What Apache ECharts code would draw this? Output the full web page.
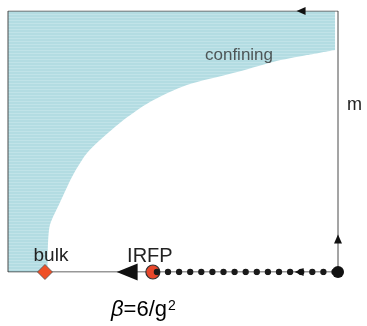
<!DOCTYPE html>
<html><head><meta charset="utf-8">
<script src="https://cdn.jsdelivr.net/npm/echarts@6/dist/echarts.min.js"></script>
<style>html,body{margin:0;padding:0;background:#fff}#c{width:367px;height:326px}</style>
</head><body><div id="c"></div>
<script>
// Phase boundary between confining (upper-left) and bulk region, relative units 0..100
var boundaryBeta = [0, 11.8, 12.1, 12.7, 15.8, 19.7, 24.2, 33.9, 43.0, 54.2, 68.2, 80.3, 90.6, 99.1];
var boundaryM    = [0, 0,    10.3, 18.0, 26.8, 37.2, 46.0, 57.1, 65.1, 71.6, 76.2, 80.5, 83.1, 85.1];
// special points on the m = 0 line
var bulkPoint  = [11.2, 0];
var irfpPoint  = [43.9, 0];
var startPoint = [100, 0];
// flow arrows
var arrowTop       = [88.8, 100];
var arrowRight     = [100, 12.6];
var arrowFlowSmall = [88.2, 0];
var arrowFlowBig   = [36.1, 0];
// region label
var confiningLabelAt = [70.0, 83.1];
var axisMin = 0, axisMax = 100;
var texts = { bulk: 'bulk', irfp: 'IRFP', confining: 'confining', yName: 'm' };

var boundaryData = boundaryBeta.map(function (b, i) { return [b, boundaryM[i]]; });

var pc = document.createElement('canvas'); pc.width = 4; pc.height = 3;
var pctx = pc.getContext('2d');
pctx.fillStyle = '#b3dce2'; pctx.fillRect(0, 0, 4, 3);
pctx.fillStyle = '#c1e3e8'; pctx.fillRect(0, 2, 4, 1);

var FONT = '"Liberation Sans", Arial, sans-serif';
var chart = echarts.init(document.getElementById('c'), null, { renderer: 'canvas' });
chart.setOption({
  animation: false,
  backgroundColor: '#ffffff',
  grid: { left: 8, top: 11, width: 330, height: 261 },
  xAxis: { type: 'value', min: axisMin, max: axisMax, show: false },
  yAxis: { type: 'value', min: axisMin, max: axisMax, show: false },
  graphic: [
    { type: 'text', left: 347, top: 96, z: 10,
      style: { text: texts.yName, font: '18px ' + FONT, fill: '#222' } },
    { type: 'text', left: 111, top: 299, z: 10,
      style: { text: '{b|β}{n|=6/g}{s|2}', rich: {
        b: { fontSize: 22, fontFamily: FONT, fontStyle: 'italic', color: '#8a8a8a' },
        n: { fontSize: 22, fontFamily: FONT, color: '#222' },
        s: { fontSize: 14, fontFamily: FONT, color: '#222', verticalAlign: 'top', padding: [0, 0, 0, 1] }
      } } }
  ],
  series: [
    { type: 'line', data: boundaryData, symbol: 'none', silent: true, z: 1, smooth: 0.25,
      lineStyle: { width: 0, opacity: 0 },
      areaStyle: { origin: 'end', color: { image: pc, repeat: 'repeat' }, opacity: 1 } },
    { type: 'line', data: [[axisMin, axisMin], [axisMin, axisMax], [axisMax, axisMax], [axisMax, axisMin]],
      symbol: 'none', silent: true, z: 3, lineStyle: { color: '#4a4a4a', width: 1 } },
    { type: 'line', data: [[axisMin, 0], [axisMax, 0]], symbol: 'none', silent: true, z: 3,
      lineStyle: { color: '#333', width: 1.2 } },
    { type: 'scatter', data: [irfpPoint], symbol: 'circle', symbolSize: 14, z: 4,
      itemStyle: { color: '#e8472b', borderColor: '#333', borderWidth: 1.2, opacity: 1 },
      label: { show: true, formatter: texts.irfp, position: 'top', distance: 0, offset: [-3, 2],
        fontSize: 20, fontFamily: FONT, color: '#222' } },
    { type: 'line', data: [startPoint, irfpPoint], symbol: 'none', silent: true, z: 5,
      lineStyle: { color: '#1a1a1a', width: 6.3, type: [0, 11.1], cap: 'round', dashOffset: 7.6 } },
    { type: 'scatter', data: [bulkPoint], symbol: 'diamond', symbolSize: 15, z: 5,
      itemStyle: { color: '#ef4f26', borderColor: '#555', borderWidth: 0.8, opacity: 1 },
      label: { show: true, formatter: texts.bulk, position: 'top', distance: 0, offset: [6, 1],
        fontSize: 19, fontFamily: FONT, color: '#222' } },
    { type: 'scatter', data: [startPoint], symbol: 'circle', symbolSize: 12, z: 6,
      itemStyle: { color: '#111', opacity: 1 } },
    { type: 'scatter', data: [arrowTop, arrowFlowSmall], symbol: 'triangle', symbolSize: [8, 9], symbolRotate: 90, z: 6,
      itemStyle: { color: '#111', opacity: 1 } },
    { type: 'scatter', data: [arrowRight], symbol: 'triangle', symbolSize: [8, 9], symbolRotate: 0, z: 6,
      itemStyle: { color: '#111', opacity: 1 } },
    { type: 'scatter', data: [arrowFlowBig], symbol: 'triangle', symbolSize: [17, 21], symbolRotate: 90, z: 6,
      itemStyle: { color: '#111', opacity: 1 } },
    { type: 'scatter', data: [confiningLabelAt], symbolSize: 0, z: 7, silent: true,
      label: { show: true, formatter: texts.confining, position: 'inside',
        fontSize: 17, fontFamily: FONT, color: '#333' } }
  ]
});
</script></body></html>
